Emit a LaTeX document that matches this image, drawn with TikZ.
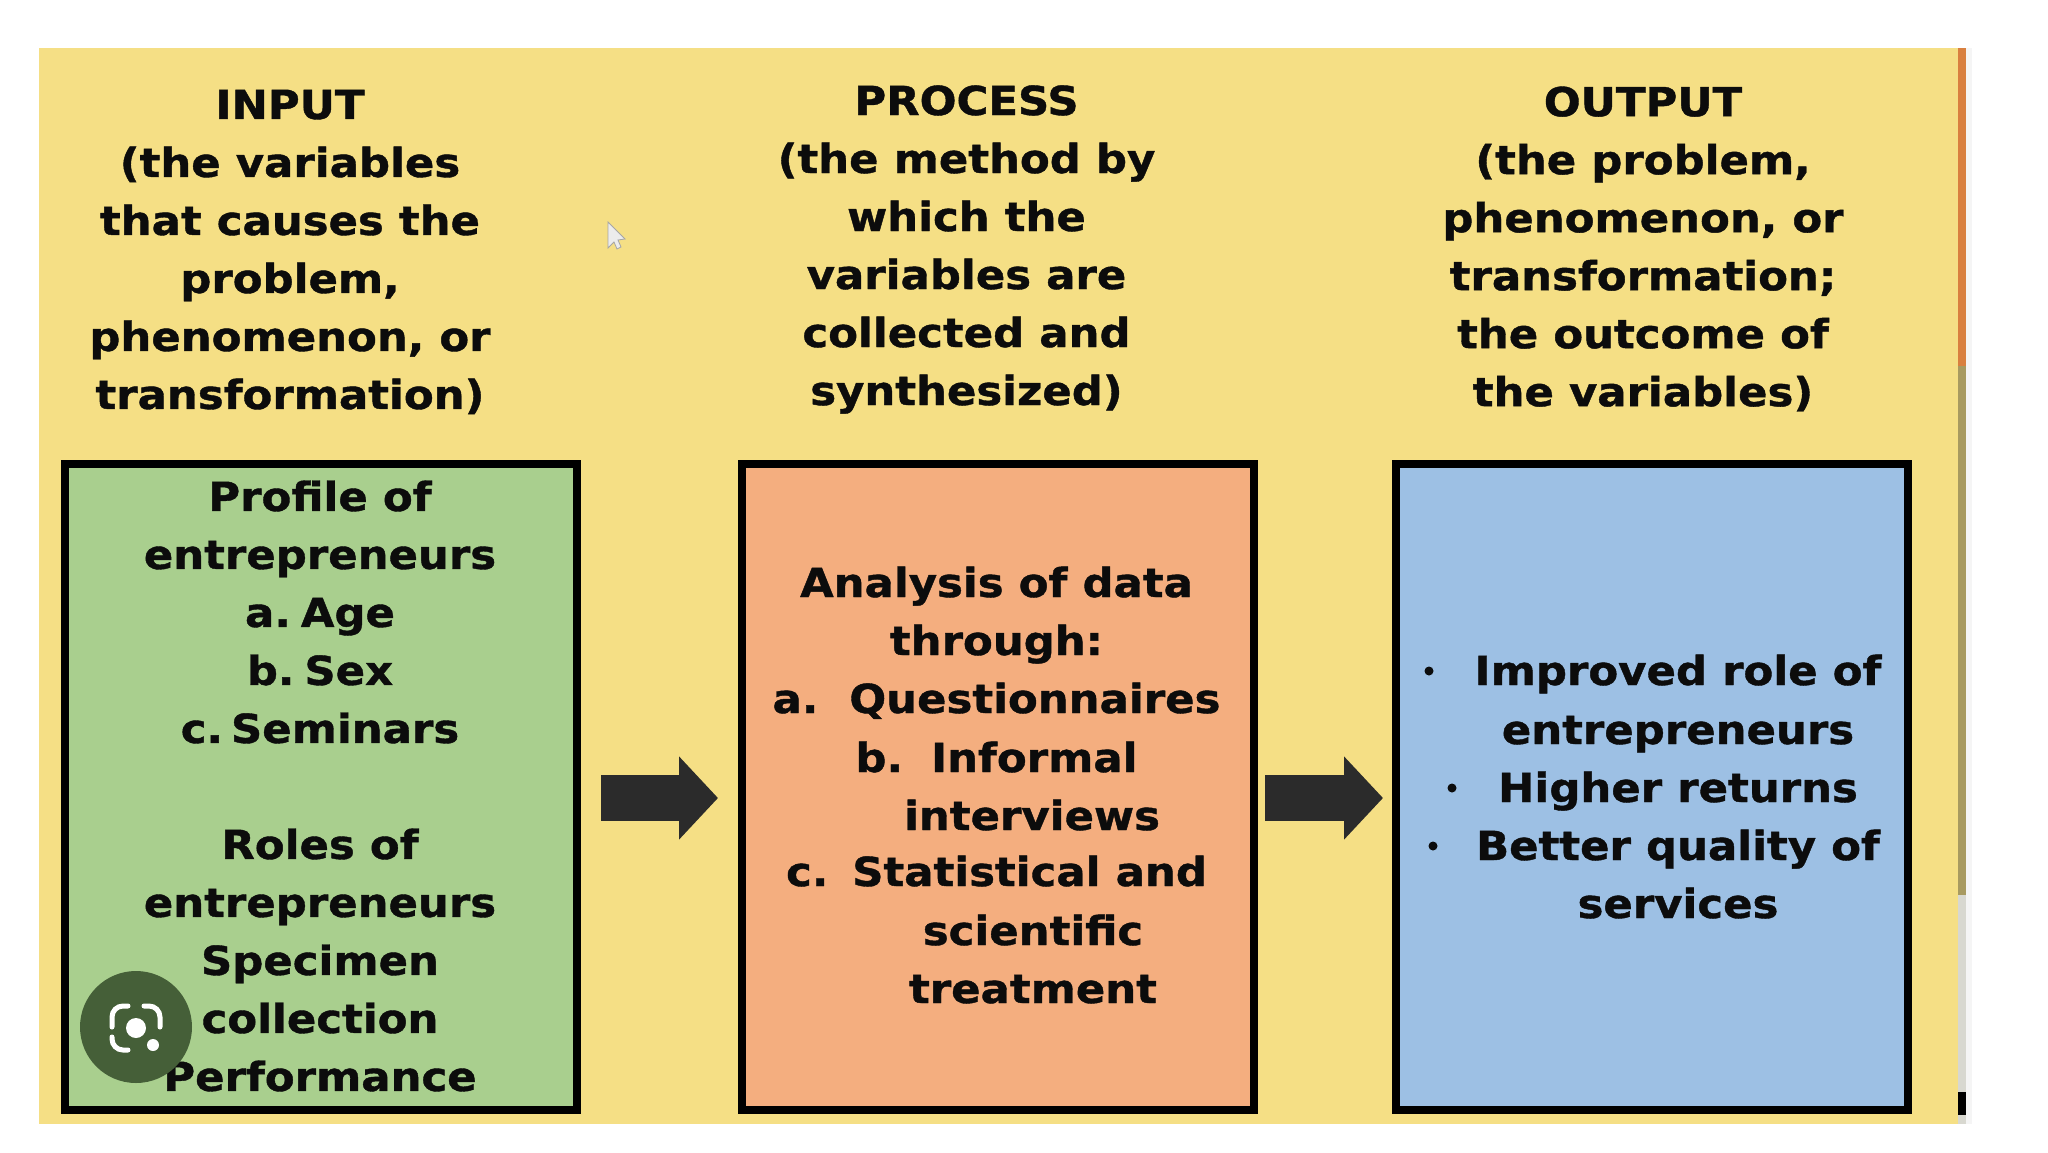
\documentclass[tikz,border=0pt]{standalone}
\usepackage{fontspec}
\setmainfont{DejaVu Sans}[BoldFeatures={FakeStretch=1.085,FakeBold=1.0}]
\usetikzlibrary{arrows.meta}
\definecolor{bgy}{HTML}{F5DF85}
\definecolor{gr}{HTML}{A9CF8E}
\definecolor{orng}{HTML}{F4AE7F}
\definecolor{blu}{HTML}{9DC0E4}
\definecolor{ink}{HTML}{0C0C0C}
\definecolor{arr}{HTML}{2B2B2B}
\definecolor{lens}{HTML}{455F38}
\definecolor{stripa}{HTML}{D9803F}
\definecolor{stripb}{HTML}{A89A60}
\definecolor{stripc}{HTML}{D8D8D0}
\tikzset{
  panel/.style={draw=black,line width=8pt,inner sep=0pt,minimum width=512pt,minimum height=646pt,anchor=north west},
  txt/.style={font=\bfseries\fontsize{40}{58}\selectfont,text=ink,inner sep=0pt,align=center},
  ln/.style={txt,anchor=base},
  blockarrow/.style={draw=arr,line width=46pt,-{Triangle[length=39pt,width=81pt]}}
}
\begin{document}
\begin{tikzpicture}[x=1pt,y=-1pt]
\useasboundingbox (0,0) rectangle (2048,1152);
\fill[white] (0,0) rectangle (2048,1152);
\fill[bgy] (39,48) rectangle (1966,1124);
% right strip
\fill[black!4] (1966,48) rectangle (1972,1124);
\fill[stripa] (1958,48) rectangle (1966,366);
\fill[stripb] (1958,366) rectangle (1966,895);
\fill[stripc] (1958,895) rectangle (1966,1124);
\fill[black] (1958,1092) rectangle (1966,1115);
% panels
\node[panel,fill=gr] (inbox) at (61,460) {};
\node[panel,fill=orng] (procbox) at (738,460) {};
\node[panel,fill=blu] (outbox) at (1392,460) {};
% headers
\node[txt] (inhead) at (290,252) {INPUT\\(the variables\\that causes the\\problem,\\phenomenon, or\\transformation)};
\node[txt] (prochead) at (966.5,249.5) {PROCESS\\(the method by\\which the\\variables are\\collected and\\synthesized)};
\node[txt] (outhead) at (1643,249) {OUTPUT\\(the problem,\\phenomenon, or\\transformation;\\the outcome of\\the variables)};
% input
\node[txt] (intext) at (320,786) {Profile of\\entrepreneurs\\a.\hspace{10pt}Age\\b.\hspace{10pt}Sex\\c.\hspace{8pt}Seminars\\[58pt]Roles of\\entrepreneurs\\Specimen\\collection\\Performance};
% process
\node[ln] (p1) at (996.5,597) {Analysis of data};
\node[ln] (p2) at (996.5,655) {through:};
\node[ln] (p3) at (996.5,713) {a.\hspace{31pt}Questionnaires};
\node[ln] (p4) at (996.5,772) {b.\hspace{28pt}Informal};
\node[ln] (p5) at (1032,830) {interviews};
\node[ln] (p6) at (996.5,886) {c.\hspace{24pt}Statistical and};
\node[ln] (p7) at (1033,945) {scientific};
\node[ln] (p8) at (1033,1003) {treatment};
% output
\node[ln] (o1) at (1678,685) {Improved role of};
\node[ln] (o2) at (1678,744) {entrepreneurs};
\node[ln] (o3) at (1678,802) {Higher returns};
\node[ln] (o4) at (1678,860) {Better quality of};
\node[ln] (o5) at (1678,918) {services};
\fill[ink] (1429,671) circle (4.5pt) (1452,788) circle (4.5pt) (1433,846) circle (4.5pt);
% arrows
\coordinate (a1a) at (601,798);
\coordinate (a1b) at (718,798);
\coordinate (a2a) at (1265,798);
\coordinate (a2b) at (1383,798);
\draw[blockarrow] (a1a) -- (a1b);
\draw[blockarrow] (a2a) -- (a2b);
% lens icon
\begin{scope}[shift={(-1,-5)}]
\fill[lens] (137,1032) circle (56pt);
\draw[white,line width=5pt,line cap=round] (113,1032) -- (113,1022) arc[start angle=180,end angle=90,radius=11pt] -- (129,1011)
 (145,1011) -- (150,1011) arc[start angle=90,end angle=0,radius=11pt] -- (161,1032)
 (113,1042) -- (113,1044) arc[start angle=180,end angle=270,radius=11pt] -- (129,1055);
\fill[white] (137,1033) circle (10pt) (154,1050) circle (6pt);
\end{scope}
% cursor
\fill[white!85!gray,draw=gray!70,line width=.8pt] (608,222) -- (608,248) -- (614,242) -- (617,249) -- (621,247) -- (618,240) -- (625,239) -- cycle;
\end{tikzpicture}
\end{document}
